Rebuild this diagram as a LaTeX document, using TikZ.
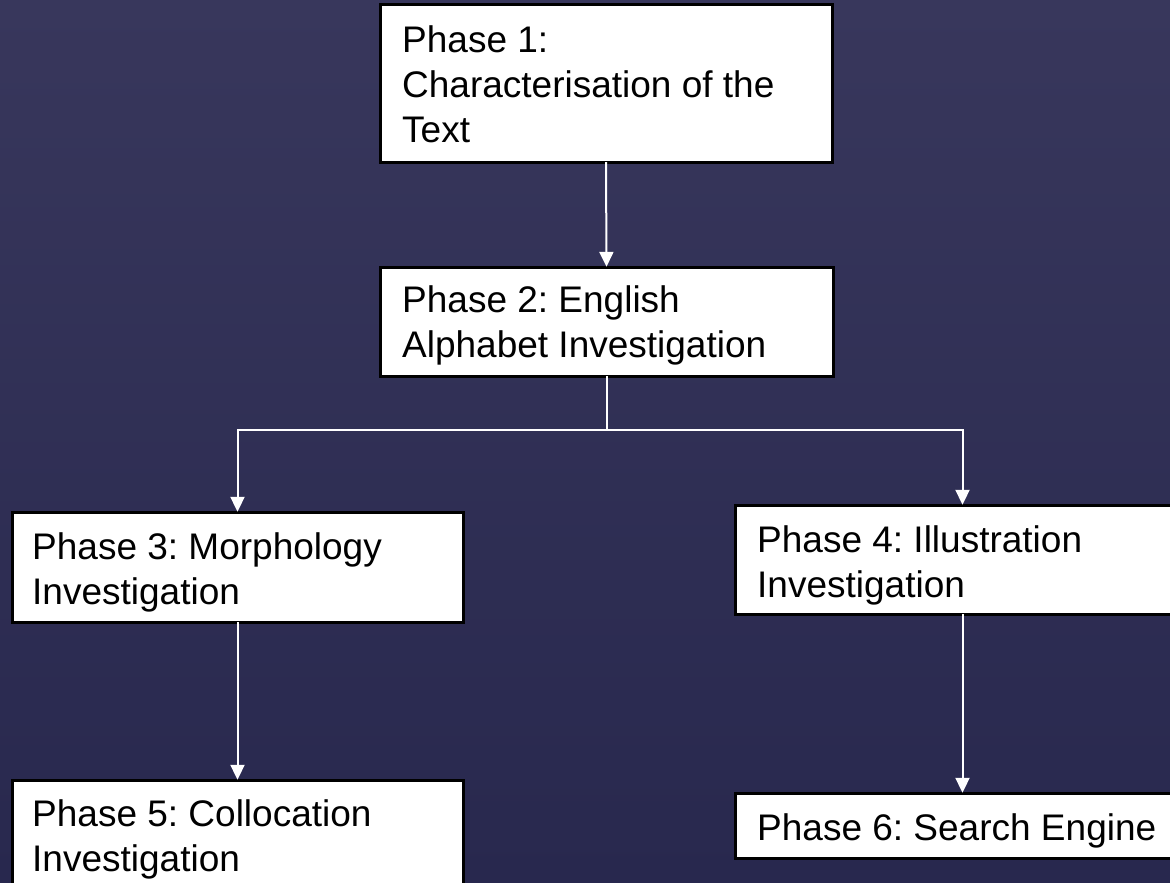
\documentclass[tikz,border=0pt]{standalone}
\usepackage{fontspec}
\setmainfont{Liberation Sans}
\usetikzlibrary{arrows.meta}
\definecolor{bgtop}{RGB}{56,55,92}
\definecolor{bgbot}{RGB}{40,40,78}
\frenchspacing
\tikzset{
  phasebox/.style={draw=black, line width=3pt, fill=white},
  phasetext/.style={anchor=base west, inner sep=0pt, align=left,
    font=\fontsize{37pt}{44.5pt}\selectfont, text=black},
  link/.style={draw=white, line width=2pt},
  arrowlink/.style={link, -{Triangle[length=15pt,width=14pt]}}
}
\begin{document}
\begin{tikzpicture}[x=1pt,y=-1pt]
\useasboundingbox (0,0) rectangle (1170,883);
\shade[top color=bgtop, bottom color=bgbot] (0,0) rectangle (1170,883);
\clip (0,0) rectangle (1170,883);
% boxes
\path[phasebox] (380,5) rectangle (832,162);
\node[inner sep=0pt, minimum width=452pt, minimum height=157pt] (b1) at (606,83.5) {};
\path[phasebox] (380,267) rectangle (833,376);
\node[inner sep=0pt, minimum width=453pt, minimum height=109pt] (b2) at (606.5,321.5) {};
\path[phasebox] (12,512) rectangle (463,622);
\node[inner sep=0pt, minimum width=451pt, minimum height=110pt] (b3) at (237.5,567) {};
\path[phasebox] (735,505) rectangle (1190,614);
\node[inner sep=0pt, minimum width=455pt, minimum height=109pt] (b4) at (962.5,559.5) {};
\path[phasebox] (12,780) rectangle (463,910);
\node[inner sep=0pt, minimum width=451pt, minimum height=130pt] (b5) at (237.5,845) {};
\path[phasebox] (735,793) rectangle (1190,858);
\node[inner sep=0pt, minimum width=455pt, minimum height=65pt] (b6) at (962.5,825.5) {};
% texts (anchored at the baseline of the last line)
\node[phasetext] (t1) at (402,142) {Phase 1:\\Characterisation of the\\Text};
\node[phasetext] (t2) at (402,357) {Phase 2: English\\Alphabet Investigation};
\node[phasetext] (t3) at (32,604) {Phase 3: Morphology\\Investigation};
\node[phasetext] (t4) at (757,597) {Phase 4: Illustration\\Investigation};
\node[phasetext] (t5) at (32,871) {Phase 5: Collocation\\Investigation};
\node[phasetext] (t6) at (757,840) {Phase 6: Search Engine};
% connectors
\coordinate (split) at (606.5,430);
\draw[arrowlink] (b1.south) -- (b2.north);
\draw[link] (b2.south) -- (split);
\draw[arrowlink] (split) -| (b3.north);
\draw[arrowlink] (split) -| (b4.north);
\draw[arrowlink] (b3.south) -- (b5.north);
\draw[arrowlink] (b4.south) -- (b6.north);
\end{tikzpicture}
\end{document}
